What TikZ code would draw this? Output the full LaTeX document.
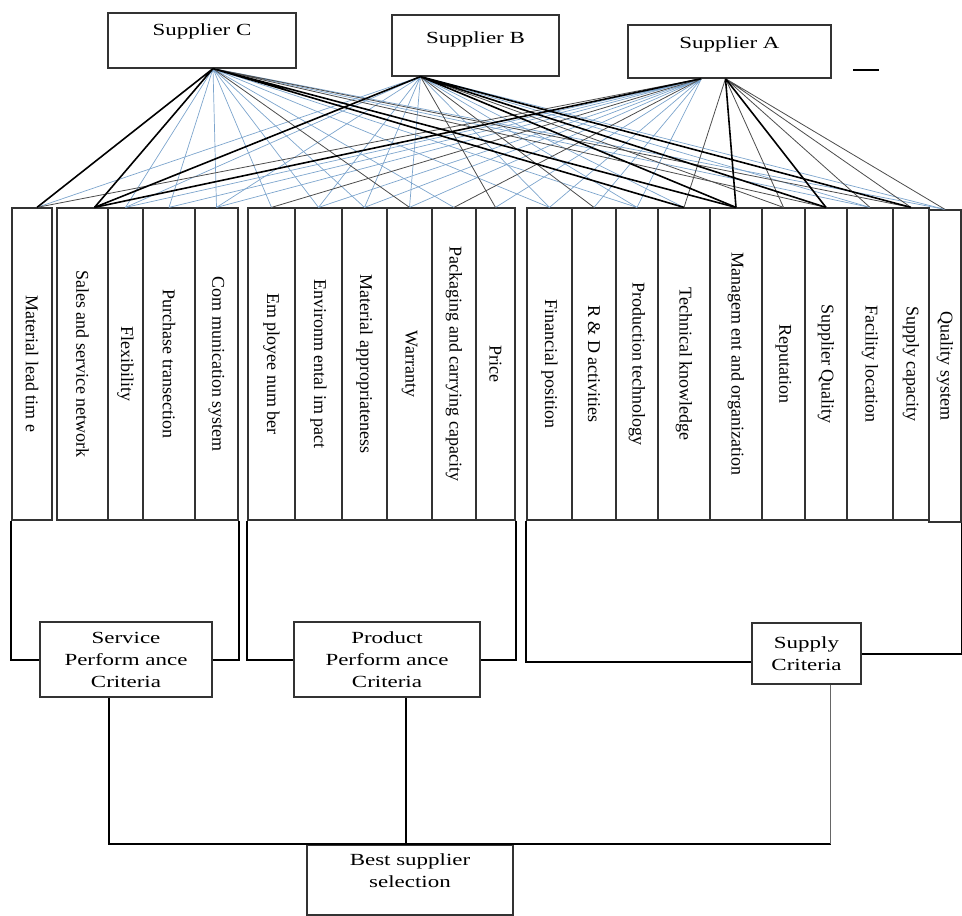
\documentclass[tikz,border=0pt]{standalone}
\usepackage{tikz}
\usepackage{graphicx}
\usepackage{fontspec}
\setmainfont{Liberation Serif}
\newfontfamily\widefont[FakeStretch=1.35]{Liberation Serif}
\definecolor{linkblue}{RGB}{125,165,205}
\newcommand{\downtext}[1]{\rotatebox{-90}{#1}}

\begin{document}
\begin{tikzpicture}[x=1pt,y=-1pt,
	box/.style={draw=black!80,line width=1.2pt,inner sep=0pt,fill=white,font=\widefont\fontsize{17}{22}\selectfont},
	crit/.style={draw=black!80,line width=1.2pt,inner sep=0pt,minimum height=312pt,font=\fontsize{18}{21}\selectfont},
	bracket/.style={line width=2pt,black},
	thicklink/.style={line width=1.6pt,black},
	thinlink/.style={line width=0.8pt,black!70},
	bluelink/.style={line width=0.7pt,linkblue}]
		\useasboundingbox (0,0) rectangle (962,916);
		% suppliers
		\node[box,minimum width=188pt,text height=22.5pt,text depth=32.5pt] (sC) at (202,40.5) {Supplier C};
		\node[box,minimum width=167pt,text height=28.5pt,text depth=32.5pt] (sB) at (475.5,45.5) {Supplier B};
		\node[box,minimum width=203pt,text height=23.5pt,text depth=29.5pt] (sA) at (729.5,51.5) {Supplier A};
		\draw[line width=2pt] (853,70) -- (879,70);
		% criteria columns
		\node[crit,minimum width=40pt] (c1) at (32,364) {\downtext{Material lead tim e}};
		\node[crit,minimum width=51pt] (c2) at (82.5,364) {\downtext{Sales and service network}};
		\node[crit,minimum width=35pt] (c3) at (125.5,364) {\downtext{Flexibility}};
		\node[crit,minimum width=52pt] (c4) at (169,364) {\downtext{Purchase transection}};
		\node[crit,minimum width=43pt] (c5) at (216.5,364) {\downtext{Com munication system}};
		\node[crit,minimum width=47pt] (c6) at (271.5,364) {\downtext{Em ployee num ber}};
		\node[crit,minimum width=47pt] (c7) at (318.5,364) {\downtext{Environm ental im pact}};
		\node[crit,minimum width=45pt] (c8) at (364.5,364) {\downtext{Material appropriateness}};
		\node[crit,minimum width=45pt] (c9) at (409.5,364) {\downtext{Warranty}};
		\node[crit,minimum width=44pt] (c10) at (454,364) {\downtext{Packaging and carrying capacity}};
		\node[crit,minimum width=39pt] (c11) at (495.5,364) {\downtext{Price}};
		\node[crit,minimum width=45pt] (c12) at (549.5,364) {\downtext{Financial position}};
		\node[crit,minimum width=44pt] (c13) at (594,364) {\downtext{R \& D activities}};
		\node[crit,minimum width=42pt] (c14) at (637,364) {\downtext{Production technology}};
		\node[crit,minimum width=52pt] (c15) at (684,364) {\downtext{Technical knowledge}};
		\node[crit,minimum width=52pt] (c16) at (736,364) {\downtext{Managem ent and organization}};
		\node[crit,minimum width=43pt] (c17) at (783.5,364) {\downtext{Reputation}};
		\node[crit,minimum width=42pt] (c18) at (826,364) {\downtext{Supplier Quality}};
		\node[crit,minimum width=46pt] (c19) at (870,364) {\downtext{Facility location}};
		\node[crit,minimum width=36pt] (c20) at (911,364) {\downtext{Supply capacity}};
		\node[crit,minimum width=32pt] (c21) at (945,366) {\downtext{Quality system}};
		% groups and goal
		\node[box,align=center,minimum width=172pt,minimum height=75pt] (svc) at (126,659.5) {Service\\Perform ance\\Criteria};
		\node[box,align=center,minimum width=186pt,minimum height=75pt] (prod) at (387,659.5) {Product\\Perform ance\\Criteria};
		\node[box,align=center,minimum width=109pt,minimum height=61pt] (sup) at (806.5,653.5) {Supply\\Criteria};
		\node[box,align=center,minimum width=206pt,minimum height=70pt] (best) at (410,880) {Best supplier\\selection\\[-3pt]\mbox{}};
		\coordinate (oC) at ([xshift=11pt]sC.south);
		\coordinate (oB) at ([xshift=-55pt]sB.south);
		\coordinate (oA) at ([xshift=-4pt]sA.south);
		\coordinate (oA2) at ([xshift=-28pt]sA.south);
		\coordinate (t1) at ([xshift=5pt]c1.north);
		\coordinate (t2) at ([xshift=12pt]c2.north);
		\coordinate (jS) at ([xshift=24pt]sup.south |- best.north);
		% links supplier -> criterion
		\draw[bluelink] (oC) -- (c3.north) (oC) -- (c4.north) (oC) -- (c5.north) (oC) -- (c6.north) (oC) -- (c7.north) (oC) -- (c8.north) (oC) -- (c10.north) (oC) -- (c12.north) (oC) -- (c14.north) (oC) -- (c19.north) (oC) -- (c21.north);
		\draw[bluelink] (oB) -- (t1) (oB) -- (c3.north) (oB) -- (c5.north) (oB) -- (c7.north) (oB) -- (c8.north) (oB) -- (c9.north) (oB) -- (c12.north) (oB) -- (c14.north) (oB) -- (c15.north) (oB) -- (c19.north) (oB) -- (c21.north);
		\draw[bluelink] (oA2) -- (c3.north) (oA2) -- (c4.north) (oA2) -- (c5.north) (oA2) -- (c7.north) (oA2) -- (c8.north) (oA2) -- (c9.north) (oA2) -- (c11.north) (oA2) -- (c12.north) (oA2) -- (c13.north) (oA2) -- (c14.north);
		\draw[thinlink] (oC) -- (c9.north) (oC) -- (c18.north) (oC) -- (c20.north);
		\draw[thinlink] (oB) -- (c11.north) (oB) -- (c13.north) (oB) -- (c17.north);
		\draw[thinlink] (oA2) -- (t1) (oA2) -- (c6.north) (oA2) -- (c10.north);
		\draw[thinlink] (oA) -- (c15.north) (oA) -- (c17.north) (oA) -- (c19.north) (oA) -- (c20.north) (oA) -- (c21.north);
		\draw[thicklink] (oC) -- (t1) (oC) -- (t2) (oC) -- (c15.north) (oC) -- (c16.north);
		\draw[thicklink] (oB) -- (t2) (oB) -- (c16.north) (oB) -- (c18.north) (oB) -- (c20.north);
		\draw[thicklink] (oA2) -- (t2) (oA) -- (c16.north) (oA) -- (c18.north);
		% brackets
		\draw[bracket] (c1.south west) |- (svc.west);
		\draw[bracket] (c5.south east) |- (svc.east);
		\draw[bracket] (c6.south west) |- (prod.west);
		\draw[bracket] (c11.south east) |- (prod.east);
		\draw[bracket] (c12.south west) |- ([yshift=-8pt]sup.west);
		\draw[bracket] (c21.south east) |- (sup.east);
		\draw[bracket] ([xshift=-17pt]svc.south) |- (best.north);
		\draw[bracket] ([xshift=19pt]prod.south) |- (best.north);
		\draw[bracket] (best.north) -- (jS);
		\draw[line width=1pt,black!60] ([xshift=24pt]sup.south) -- (jS);
	\end{tikzpicture}
\end{document}
